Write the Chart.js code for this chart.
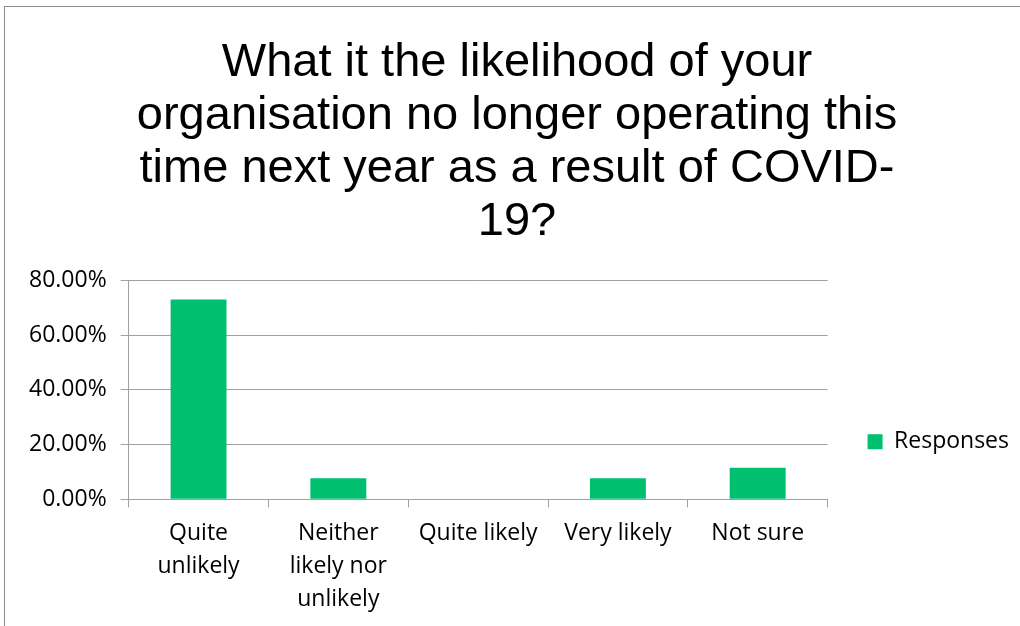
<!DOCTYPE html>
<html>
<head>
<meta charset="utf-8">
<script src="https://cdn.jsdelivr.net/npm/chart.js@4/dist/chart.umd.min.js"></script>
<style>
  html, body { margin: 0; padding: 0; background: #fff; overflow: hidden; }
  #frame {
    position: absolute;
    left: 4px;
    top: 6px;
    width: 1030px;
    height: 640px;
    border-left: 1px solid #8c8c8c;
    border-top: 1px solid #8c8c8c;
  }
</style>
</head>
<body>
<div id="frame"><canvas id="chart" width="1030" height="640"></canvas></div>
<script>
// survey answers, share of responses
const categories = [
    ['Quite', 'unlikely'],
    ['Neither', 'likely nor', 'unlikely'],
    'Quite likely',
    'Very likely',
    'Not sure'
];
const responses = [73.08, 7.69, 0, 7.69, 11.54];
const yTicks = [0, 20, 40, 60, 80];

const titleLines = [
    'What it the likelihood of your',
    'organisation no longer operating this',
    'time next year as a result of COVID-',
    '19?'
];

const gridColor = '#a0a0a0';
const barColor = '#00bf6f';
const bodyFont = 'Open Sans';

// keep the legend centred in the band below the title
const legendBand = {
    id: 'legendBand',
    afterLayout (chart) {
        const lg = chart.legend;
        if (!lg || !chart.titleBlock) return;
        lg.top = chart.titleBlock.bottom;
        lg.bottom = chart.height - 44;
        lg.height = lg.bottom - lg.top;
    }
};

const ctx = document.getElementById('chart').getContext('2d');

new Chart(ctx, {
    type: 'bar',
    data: {
        labels: categories,
        datasets: [{
            label: 'Responses',
            data: responses,
            backgroundColor: barColor,
            borderWidth: 0,
            barPercentage: 0.4,
            categoryPercentage: 1.0
        }]
    },
    plugins: [legendBand],
    options: {
        responsive: false,
        animation: false,
        layout: {
            padding: { left: 10, right: 16, top: 0, bottom: 21 }
        },
        plugins: {
            title: {
                display: true,
                text: titleLines,
                color: '#000',
                font: { family: 'Liberation Sans', size: 47, weight: 'normal', lineHeight: 1.125 },
                padding: { top: 30, bottom: 32 }
            },
            legend: {
                position: 'right',
                labels: {
                    color: '#000',
                    font: { family: bodyFont, size: 23 },
                    boxWidth: 15,
                    boxHeight: 15,
                    padding: 40
                }
            },
            tooltip: { enabled: false }
        },
        scales: {
            x: {
                grid: {
                    display: true,
                    offset: true,
                    drawOnChartArea: false,
                    color: gridColor,
                    tickLength: 8
                },
                border: { color: gridColor },
                ticks: {
                    color: '#000',
                    font: { family: bodyFont, size: 23, lineHeight: 1.43 },
                    padding: 10,
                    maxRotation: 0
                }
            },
            y: {
                min: 0,
                max: 80,
                afterBuildTicks: axis => {
                    axis.ticks = yTicks.map(v => ({ value: v }));
                },
                grid: {
                    color: gridColor,
                    tickLength: 8
                },
                border: { color: gridColor },
                ticks: {
                    color: '#000',
                    font: { family: bodyFont, size: 23 },
                    padding: 14,
                    callback: v => v.toFixed(2) + '%'
                }
            }
        }
    }
});
</script>
</body>
</html>
